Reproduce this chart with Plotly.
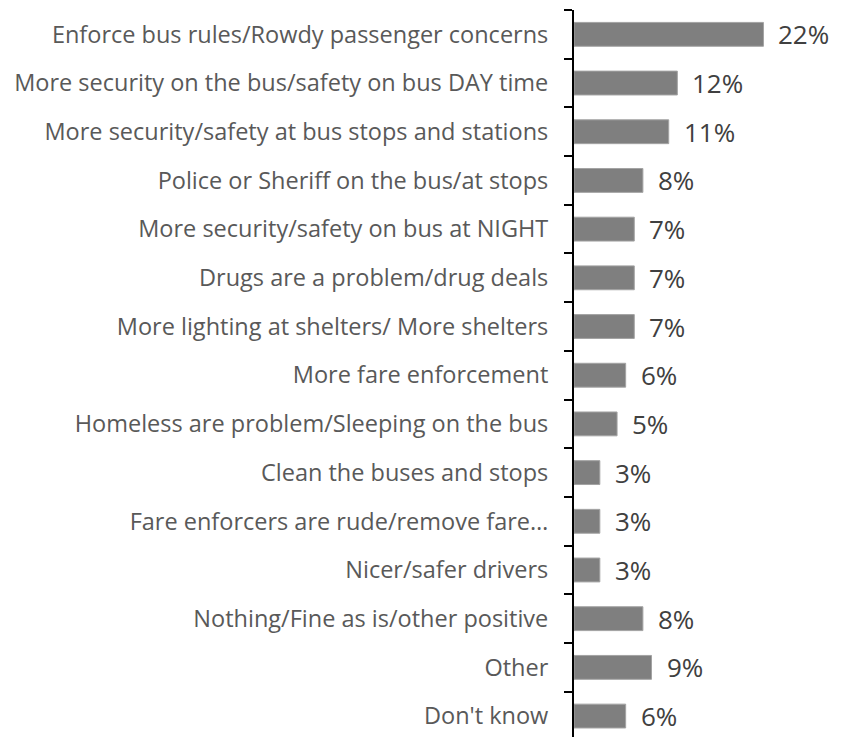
import plotly.graph_objects as go

# Responses (share of riders, %)
categories = [
    "Enforce bus rules/Rowdy passenger concerns",
    "More security on the bus/safety on bus DAY time",
    "More security/safety at bus stops and stations",
    "Police or Sheriff on the bus/at stops",
    "More security/safety on bus at NIGHT",
    "Drugs are a problem/drug deals",
    "More lighting at shelters/ More shelters",
    "More fare enforcement",
    "Homeless are problem/Sleeping on the bus",
    "Clean the buses and stops",
    "Fare enforcers are rude/remove fare…",
    "Nicer/safer drivers",
    "Nothing/Fine as is/other positive",
    "Other",
    "Don't know",
]
values = [22, 12, 11, 8, 7, 7, 7, 6, 5, 3, 3, 3, 8, 9, 6]
value_labels = [f"{v}%" for v in values]

FONT = "Open Sans"

fig = go.Figure(
    go.Bar(
        x=values,
        y=categories,
        orientation="h",
        marker=dict(color="#7f7f7f", line=dict(color="#a3a3a3", width=1)),
        hoverinfo="skip",
    )
)

# Percent labels just past the end of each bar
for cat, v, lab in zip(categories, values, value_labels):
    fig.add_annotation(
        x=v, y=cat, text=lab, showarrow=False,
        xanchor="left", yanchor="middle", xshift=13,
        font=dict(family=FONT, size=26, color="#404040"),
    )

fig.update_layout(
    width=847, height=737,
    margin=dict(l=574, r=0, t=10, b=0),
    paper_bgcolor="white", plot_bgcolor="white",
    showlegend=False,
    bargap=0.51,
    xaxis=dict(
        range=[0, 31.7], visible=False, showgrid=False, zeroline=False,
    ),
    yaxis=dict(
        type="category",
        categoryorder="array", categoryarray=categories,
        range=[14.43, -0.5],
        showline=True, linecolor="black", linewidth=2,
        ticks="outside", tickson="boundaries", ticklen=8, tickwidth=2,
        tickcolor="black",
        ticklabelstandoff=19,
        tickfont=dict(family=FONT, size=23.5, color="#595959"),
        showgrid=False, zeroline=False,
    ),
)

fig.write_html("out.html")
